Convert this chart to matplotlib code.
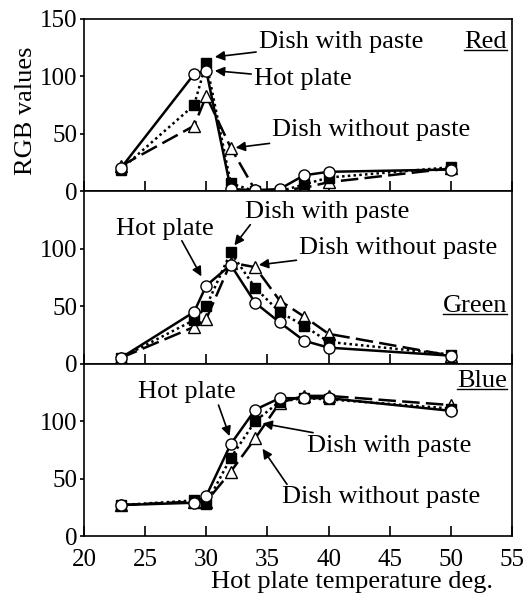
import numpy as np
import matplotlib.pyplot as plt
from matplotlib.lines import Line2D

plt.rcParams['font.family'] = ['Liberation Serif', 'DejaVu Serif']

temps = [23, 29, 30, 32, 34, 36, 38, 40, 50]

# Red channel
red_hot = [20, 102, 105, 2, 1, 2, 14, 17, 19]
red_with = [19, 75, 112, 7, 0, 0, 6, 12, 21]
red_without = [22, 57, 83, 38, 1, 1, 3, 8, 20]

# Green channel
green_hot = [5, 45, 68, 86, 53, 36, 20, 14, 7]
green_with = [5, 38, 50, 97, 66, 45, 33, 19, 8]
green_without = [5, 32, 39, 88, 84, 55, 41, 26, 7]

# Blue channel
blue_hot = [27, 29, 35, 80, 110, 120, 120, 120, 109]
blue_with = [27, 31, 28, 68, 100, 117, 120, 119, 111]
blue_without = [27, 30, 30, 56, 85, 116, 122, 122, 114]

channels = ['Red', 'Green', 'Blue']
label_y = [130, 50, 135]
series = [
    (red_hot, red_with, red_without),
    (green_hot, green_with, green_without),
    (blue_hot, blue_with, blue_without),
]

fig = plt.figure(figsize=(5.3, 6.03), dpi=100)
gs = fig.add_gridspec(3, 1, left=0.1585, right=0.966, top=0.9685, bottom=0.111, hspace=0)
axes = [fig.add_subplot(gs[i]) for i in range(3)]

fs = 19   # annotation / label text
tfs = 18  # tick labels
lw = 1.8
name_texts = []
for ax, name, ly, (hot, withp, without) in zip(axes, channels, label_y, series):
    ax.plot(temps, without, color='black', lw=lw, dashes=(7, 2.5), marker='^',
            ms=8.5, mfc='white', mec='black', mew=1.0, zorder=3)
    ax.plot(temps, withp, color='black', lw=lw, ls=(0, (1, 1.3)), marker='s',
            ms=7, mfc='black', mec='black', zorder=4)
    ax.plot(temps, hot, color='black', lw=lw, ls='-', marker='o',
            ms=8, mfc='white', mec='black', mew=1.0, zorder=5)
    ax.set_xlim(20, 55)
    ax.set_ylim(0, 150)
    ax.set_xticks([20, 25, 30, 35, 40, 45, 50, 55])
    ax.tick_params(axis='x', direction='in', length=7, width=1.2, labelsize=tfs, pad=9)
    ax.tick_params(axis='y', direction='out', length=3, width=1.2, labelsize=tfs, pad=2)
    for s in ax.spines.values():
        s.set_linewidth(1.2)
    name_texts.append(ax.text(54.6, ly, name, fontsize=fs, ha='right', va='center'))

axes[0].set_yticks([0, 50, 100, 150])
axes[1].set_yticks([0, 50, 100])
axes[2].set_yticks([0, 50, 100])
axes[0].tick_params(labelbottom=False)
axes[1].tick_params(labelbottom=False)

arrow = dict(arrowstyle='-|>', color='black', lw=1.2, mutation_scale=14,
             shrinkA=0, shrinkB=0)

# Red panel
a = axes[0]
a.annotate('Dish with paste', xy=(30.7, 117), xytext=(34.3, 130), fontsize=fs,
           va='center', arrowprops=arrow)
a.annotate('Hot plate', xy=(30.7, 105), xytext=(33.9, 98), fontsize=fs,
           va='center', arrowprops=arrow)
a.annotate('Dish without paste', xy=(32.4, 38), xytext=(35.4, 53), fontsize=fs,
           va='center', arrowprops=arrow)

# Green panel
a = axes[1]
a.text(33.2, 132, 'Dish with paste', fontsize=fs, va='center')
a.annotate('', xy=(32.3, 103), xytext=(33.6, 121), arrowprops=arrow)
a.text(26.6, 117, 'Hot plate', fontsize=fs, va='center', ha='center')
a.annotate('', xy=(29.6, 76), xytext=(28.0, 107), arrowprops=arrow)
a.annotate('Dish without paste', xy=(34.3, 86), xytext=(37.6, 101), fontsize=fs,
           va='center', arrowprops=arrow)

# Blue panel
a = axes[2]
a.text(28.4, 125, 'Hot plate', fontsize=fs, va='center', ha='center')
a.annotate('', xy=(31.9, 87), xytext=(31.0, 114), arrowprops=arrow)
a.annotate('Dish with paste', xy=(34.6, 98), xytext=(38.2, 78), fontsize=fs,
           va='center', arrowprops=arrow)
a.text(36.2, 34, 'Dish without paste', fontsize=fs, va='center')
a.annotate('', xy=(34.6, 76), xytext=(36.6, 45), arrowprops=arrow)

axes[0].set_ylabel('RGB values', fontsize=fs, labelpad=2, y=0.47)
axes[2].set_xlabel('Hot plate temperature deg.', fontsize=fs, ha='right', x=0.956, labelpad=0)

# underline the channel names
fig.canvas.draw()
r = fig.canvas.get_renderer()
inv = fig.transFigure.inverted()
for t in name_texts:
    bb = t.get_window_extent(r)
    (x0, y0), (x1, _) = inv.transform([(bb.x0, bb.y0 + 3), (bb.x1, bb.y0)])
    fig.add_artist(Line2D([x0, x1], [y0, y0], color='black', lw=1.0))

fig.savefig('out.png', dpi=100)
